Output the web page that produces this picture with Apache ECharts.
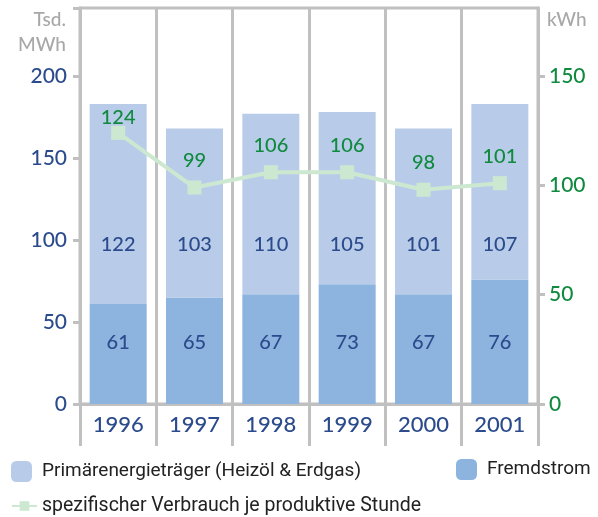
<!DOCTYPE html>
<html>
<head>
<meta charset="utf-8">
<script src="https://cdn.jsdelivr.net/npm/echarts@6/dist/echarts.min.js"></script>
<style>
html,body{margin:0;padding:0;background:#fff;}
#chart{width:598px;height:517px;}
</style>
</head>
<body>
<div id="chart"></div>
<script>
const categories = ['1996', '1997', '1998', '1999', '2000', '2001'];
const primaer = [122, 103, 110, 105, 101, 107];
const fremdstrom = [61, 65, 67, 73, 67, 76];
const verbrauch = [124, 99, 106, 106, 98, 101];
const leftTicks = [0, 50, 100, 150, 200];
const rightTicks = [0, 50, 100, 150];

const nameP = 'Primärenergieträger (Heizöl & Erdgas)';
const nameF = 'Fremdstrom';
const nameV = 'spezifischer Verbrauch je produktive Stunde';

const W = 598, H = 517;
const grid = { left: 80, right: 60, top: 8, bottom: 113 };
const zeroY = H - grid.bottom;
const leftMax = 241.5;
const rightMax = 150 * leftMax / 200;

const grey = '#c0c0c0';
const blue = '#2b4b8c';
const green = '#108a3e';
const numFont = 'Lato';
const numWeight = 500;
const txtFont = 'Roboto';

const chart = echarts.init(document.getElementById('chart'), null, { renderer: 'canvas', width: W, height: H });

const option = {
  animation: false,
  backgroundColor: '#fff',
  grid: Object.assign({ show: true, borderColor: grey, borderWidth: 3, backgroundColor: 'transparent' }, grid),
  legend: [
    { data: [nameP], left: 11, top: 461, padding: 0, itemWidth: 21, itemHeight: 21,
      textStyle: { fontFamily: txtFont, fontSize: 19, color: '#222', padding: [0, 0, 0, 5] } },
    { data: [nameF], left: 456, top: 459, padding: 0, itemWidth: 21, itemHeight: 21,
      textStyle: { fontFamily: txtFont, fontSize: 19, color: '#222', padding: [0, 0, 0, 5] } },
    { data: [nameV], left: 11, top: 496, padding: 0, itemWidth: 25, itemHeight: 12,
      textStyle: { fontFamily: txtFont, fontSize: 19.5, color: '#222' } }
  ],
  xAxis: {
    type: 'category',
    data: categories,
    axisLine: { lineStyle: { color: grey, width: 3 } },
    axisTick: { show: true, interval: 0, length: 42, lineStyle: { color: grey, width: 3 } },
    splitLine: { show: true, interval: 0, lineStyle: { color: grey, width: 3 } },
    axisLabel: { color: blue, fontFamily: numFont, fontWeight: numWeight, fontSize: 22, margin: 10, interval: 0 }
  },
  yAxis: [
    {
      type: 'value', min: 0, max: leftMax, interval: 50,
      name: 'Tsd.\nMWh', nameLocation: 'end', nameGap: 1,
      nameTextStyle: { color: '#a8a8a8', fontFamily: numFont, fontWeight: numWeight, fontSize: 19, lineHeight: 25,
        align: 'right', verticalAlign: 'top', padding: [0, 14, 0, 0] },
      axisLine: { show: true, lineStyle: { color: grey, width: 3 } },
      axisTick: { show: true, length: 7, lineStyle: { color: grey, width: 3 } },
      splitLine: { show: false },
      axisLabel: { color: blue, fontFamily: numFont, fontWeight: numWeight, fontSize: 21, margin: 13, customValues: leftTicks }
    },
    {
      type: 'value', min: 0, max: rightMax, interval: 50,
      name: 'kWh', nameLocation: 'end', nameGap: 1,
      nameTextStyle: { color: '#a8a8a8', fontFamily: numFont, fontWeight: numWeight, fontSize: 19, lineHeight: 25,
        align: 'left', verticalAlign: 'top', padding: [0, 0, 0, 9] },
      axisLine: { show: true, lineStyle: { color: grey, width: 3 } },
      axisTick: { show: true, length: 7, lineStyle: { color: grey, width: 3 }, customValues: rightTicks },
      splitLine: { show: false },
      axisLabel: { color: green, fontFamily: numFont, fontWeight: numWeight, fontSize: 21, margin: 11, customValues: rightTicks }
    }
  ],
  series: [
    {
      name: nameF, type: 'bar', stack: 'total', barWidth: 57, data: fremdstrom,
      itemStyle: { color: '#8cb4df' },
      label: { show: true, position: 'inside', color: blue, fontFamily: numFont, fontWeight: numWeight, fontSize: 20 },
      labelLayout: function (p) {
        return { x: p.rect.x + p.rect.width / 2, y: zeroY - 61, align: 'center', verticalAlign: 'middle' };
      }
    },
    {
      name: nameP, type: 'bar', stack: 'total', barWidth: 57, data: primaer,
      itemStyle: { color: '#b8cce9' },
      label: { show: true, position: 'inside', color: blue, fontFamily: numFont, fontWeight: numWeight, fontSize: 20 },
      labelLayout: function (p) {
        return { x: p.rect.x + p.rect.width / 2, y: zeroY - 159, align: 'center', verticalAlign: 'middle' };
      }
    },
    {
      name: nameV, type: 'line', yAxisIndex: 1, z: 5,
      data: verbrauch.map(function (v, i) {
        return i === 0 ? { value: v, label: { distance: -2 } } : v;
      }),
      symbol: 'rect', symbolSize: 14,
      lineStyle: { color: '#cde8d0', width: 4 },
      itemStyle: { color: '#cde8d0' },
      label: { show: true, position: 'top', distance: 10, color: green, fontFamily: numFont, fontWeight: numWeight, fontSize: 20 }
    }
  ]
};
chart.setOption(option);
</script>
</body>
</html>
